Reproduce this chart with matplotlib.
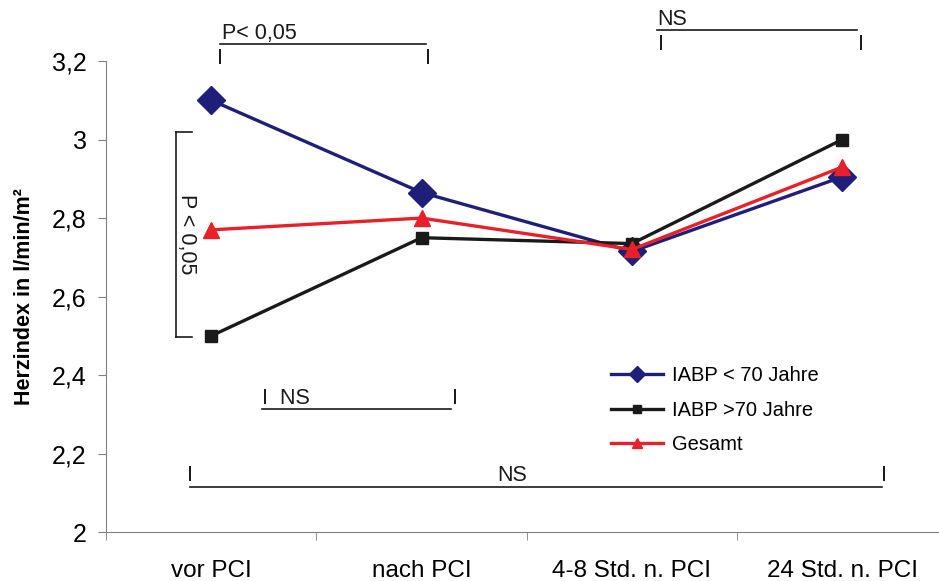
import matplotlib.pyplot as plt

categories = ['vor PCI', 'nach PCI', '4-8 Std. n. PCI', '24 Std. n. PCI']
iabp_unter70 = [3.10, 2.865, 2.715, 2.905]
iabp_ueber70 = [2.50, 2.75, 2.735, 3.00]
gesamt = [2.77, 2.80, 2.72, 2.93]
yticks = [2, 2.2, 2.4, 2.6, 2.8, 3, 3.2]
ylabels = ['2', '2,2', '2,4', '2,6', '2,8', '3', '3,2']

plt.rcParams['font.family'] = ['Liberation Sans', 'DejaVu Sans']

fig = plt.figure(figsize=(9.39, 5.81), dpi=100)
ax = fig.add_axes([0.113, 0.084, 0.896, 0.811])

x = range(len(categories))
ax.plot(x, iabp_unter70, color='#1f1f7a', lw=2.4, marker='D', ms=14, label='IABP < 70 Jahre')
ax.plot(x, iabp_ueber70, color='#1a1a1a', lw=2.4, marker='s', ms=9, label='IABP >70 Jahre')
ax.plot(x, gesamt, color='#e8202a', lw=2.4, marker='^', ms=11, label='Gesamt')

ax.set_xlim(-0.5, 3.5)
ax.set_ylim(2, 3.2)
ax.set_yticks(yticks)
ax.set_yticklabels(ylabels, fontsize=18)
ax.set_xticks([0, 1, 2, 3])
ax.set_xticklabels(categories, fontsize=17.5)
ax.set_xticks([-0.5, 0.5, 1.5, 2.5, 3.5], minor=True)
ax.tick_params(axis='x', which='major', length=0, pad=20)
ax.tick_params(axis='x', which='minor', length=6, color='#808080')
ax.tick_params(axis='y', length=6, color='#808080', pad=8)
for s in ['top', 'right']:
    ax.spines[s].set_visible(False)
for s in ['left', 'bottom']:
    ax.spines[s].set_color('#808080')
ax.set_ylabel('Herzindex in l/min/m²', fontsize=15.5, fontweight='bold', labelpad=12)

leg = ax.legend(loc='upper left', bbox_to_anchor=(0.59, 0.37), frameon=False,
                fontsize=14.5, handlelength=2.6, labelspacing=0.78, handletextpad=0.45,
                markerscale=0.6, borderaxespad=0)

# Signifikanz-Klammern
k = dict(color='#1a1a1a', lw=1.2, clip_on=False)
t = dict(fontsize=15.5, color='#1a1a1a', clip_on=False)
ax.text(0.05, 3.243, 'P< 0,05', ha='left', va='bottom', **t)
ax.plot([0.04, 1.02], [3.243, 3.243], **k)
ax.text(0.04, 3.207, 'I', ha='center', va='center', **t)
ax.text(1.03, 3.207, 'I', ha='center', va='center', **t)

ax.text(2.12, 3.279, 'NS', ha='left', va='bottom', **t)
ax.plot([2.12, 3.07], [3.279, 3.279], **k)
ax.text(2.14, 3.243, 'I', ha='center', va='center', **t)
ax.text(3.09, 3.243, 'I', ha='center', va='center', **t)

ax.plot([-0.17, -0.17], [2.497, 3.02], **k)
ax.plot([-0.17, -0.09], [3.02, 3.02], **k)
ax.plot([-0.17, -0.09], [2.497, 2.497], **k)
ax.text(-0.12, 2.76, 'P < 0,05', rotation=-90, ha='center', va='center', **t)

ax.text(0.24, 2.315, 'I  NS', ha='left', va='bottom', **t)
ax.plot([0.24, 1.14], [2.315, 2.315], **k)
ax.text(1.16, 2.34, 'I', ha='center', va='center', **t)

ax.text(-0.1, 2.118, 'I', ha='center', va='bottom', **t)
ax.text(1.36, 2.118, 'NS', ha='left', va='bottom', **t)
ax.plot([-0.1, 3.19], [2.115, 2.115], **k)
ax.text(3.2, 2.118, 'I', ha='center', va='bottom', **t)

fig.savefig('out.png', dpi=100)
